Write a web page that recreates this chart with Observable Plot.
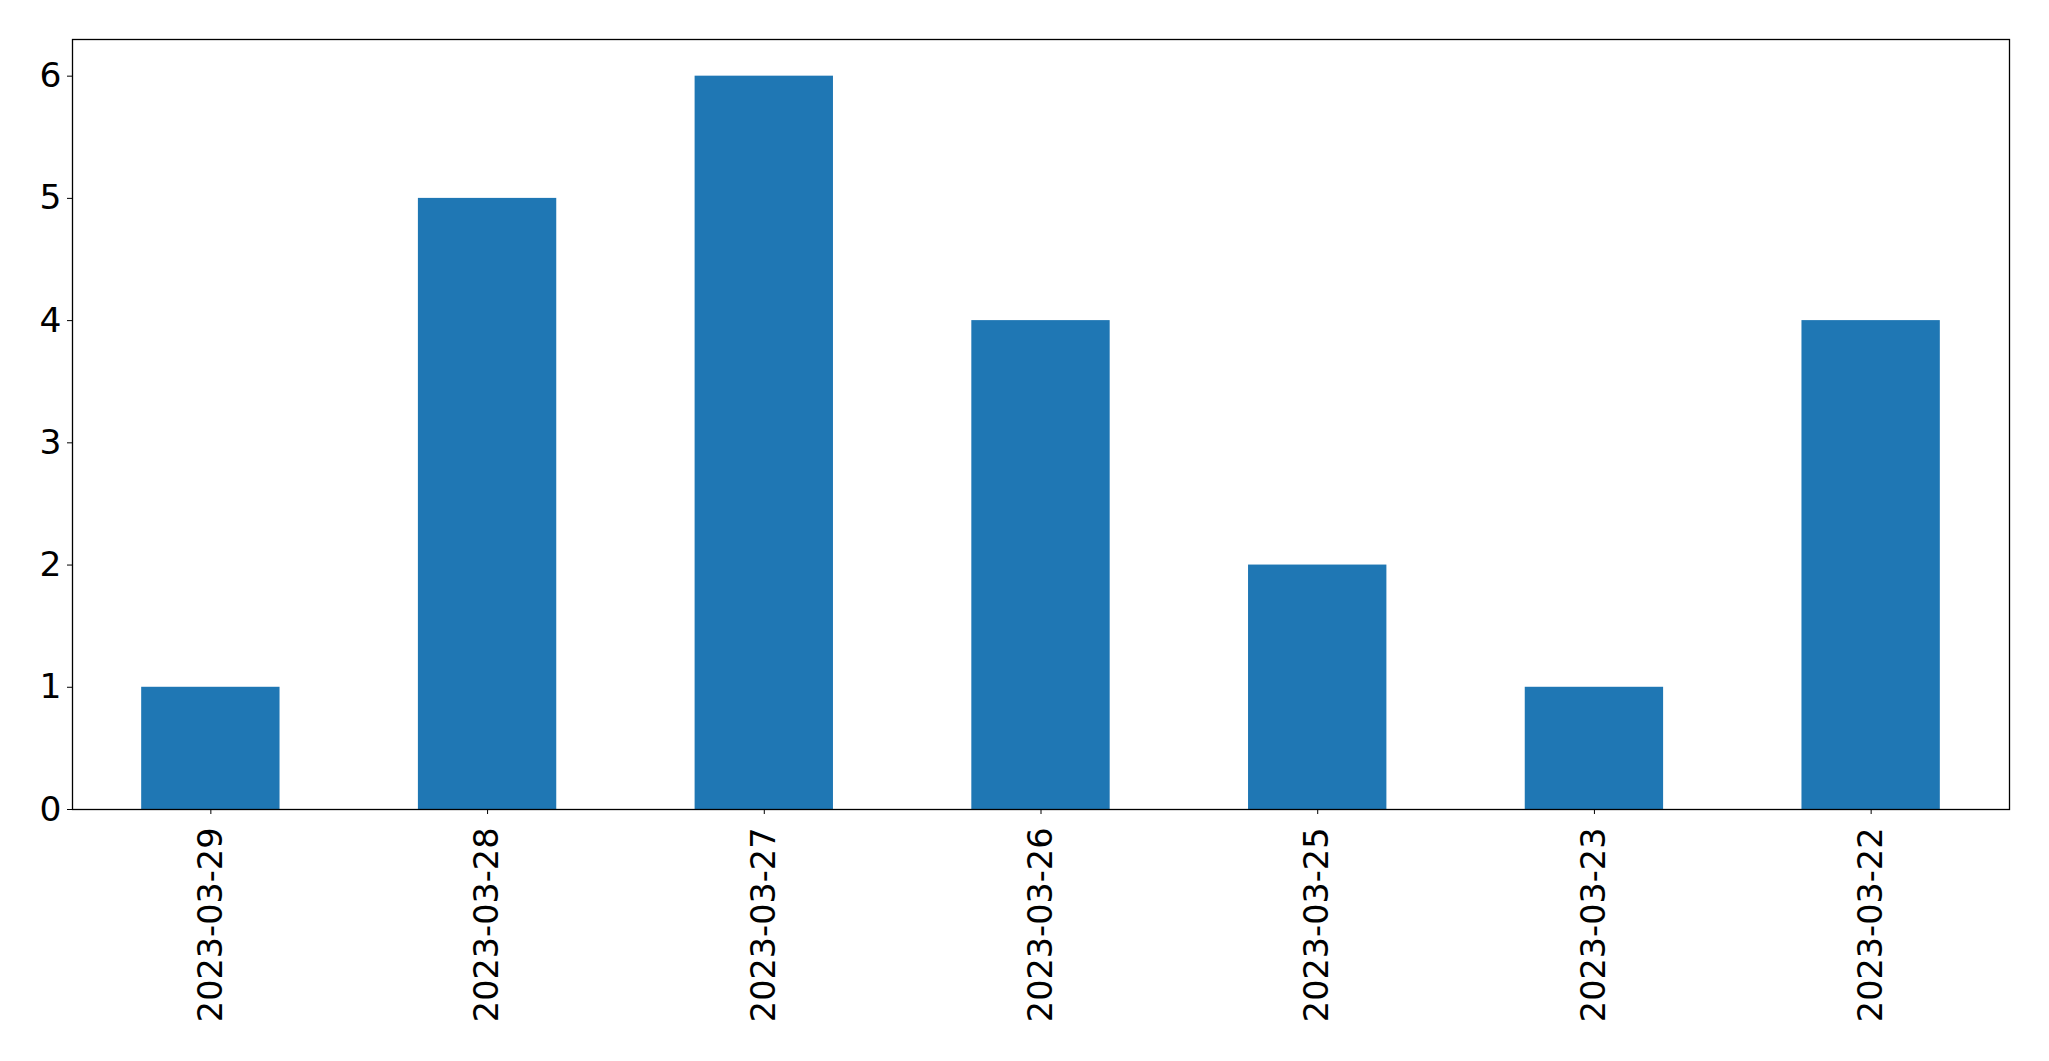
<!DOCTYPE html>
<html>
<head>
<meta charset="utf-8">
<script src="https://cdn.jsdelivr.net/npm/d3@7"></script>
<script src="https://cdn.jsdelivr.net/npm/@observablehq/plot@0.6"></script>
<style>
  html, body { margin: 0; padding: 0; background: #fff; }
  #chart svg { display: block; }
</style>
</head>
<body>
<div id="chart"></div>
<script>
const dates = ["2023-03-29", "2023-03-28", "2023-03-27", "2023-03-26", "2023-03-25", "2023-03-23", "2023-03-22"];
const counts = [1, 5, 6, 4, 2, 1, 4];
const yTicks = [0, 1, 2, 3, 4, 5, 6];

const data = dates.map((d, i) => ({date: d, count: counts[i]}));

const chart = Plot.plot({
  width: 2049,
  height: 1061,
  marginLeft: 72,
  marginRight: 40,
  marginTop: 39,
  marginBottom: 252,
  style: {fontFamily: "'DejaVu Sans', sans-serif", fontSize: "33.5px", color: "#000", background: "#fff"},
  x: {domain: dates, paddingInner: 0.5, paddingOuter: 0.25, round: false, label: null},
  y: {domain: [0, 6.3], label: null},
  marks: [
    Plot.barY(data, {x: "date", y: "count", fill: "#1f77b4"}),
    Plot.frame({stroke: "#000", strokeWidth: 1.3}),
    Plot.axisY({ticks: yTicks, tickSize: 5, tickPadding: 6, tickFormat: d => String(d), label: null, stroke: "#000", fontSize: 34.5}),
    Plot.axisX({tickSize: 5, tickPadding: 13, tickRotate: -90, label: null, stroke: "#000", fontSize: 33.5})
  ]
});
document.getElementById("chart").appendChild(chart);
</script>
</body>
</html>
